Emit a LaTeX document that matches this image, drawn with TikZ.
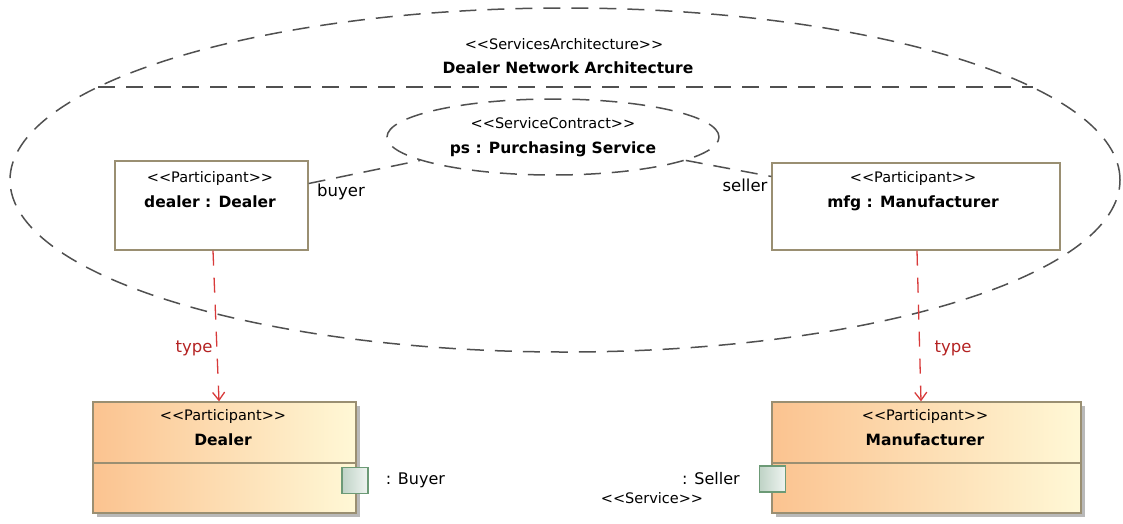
\documentclass[tikz,border=0pt]{standalone}
\usepackage{fontspec}
\setmainfont{DejaVu Sans}
\usetikzlibrary{arrows.meta,positioning,shapes.geometric,shadows}
\definecolor{archline}{HTML}{505050}
\definecolor{partline}{HTML}{9A8F72}
\definecolor{typered}{HTML}{D83A3A}
\definecolor{typetext}{HTML}{B42222}
\definecolor{clsleft}{HTML}{FBC390}
\definecolor{clsright}{HTML}{FFF8D6}
\definecolor{portline}{HTML}{6C9A76}
\definecolor{portfill}{HTML}{BFD3C6}
\newcommand{\ster}[1]{<\kern0pt<#1>\kern0pt>}
\newcommand{\stfont}{\fontsize{14.5}{25}\selectfont}
\newcommand{\nmfont}{\fontsize{15.5}{25}\selectfont\bfseries}

\begin{document}
\begin{tikzpicture}[x=1pt,y=-1pt,
  collab/.style={ellipse,draw=archline,line width=1.5pt,dash pattern=on 17pt off 11pt,inner sep=0pt},
  partbox/.style={rectangle,draw=partline,line width=1.3pt,fill=white,inner sep=0pt},
  clsbox/.style={rectangle,draw=partline,line width=1.3pt,left color=clsleft,right color=clsright,inner sep=0pt,
    drop shadow={shadow xshift=4pt,shadow yshift=-4pt,opacity=0.55}},
  portbox/.style={rectangle,draw=portline,line width=1.2pt,left color=portfill,right color=portfill!25,
    minimum width=26pt,minimum height=26pt,inner sep=0pt},
  twoline/.style={align=center,font=\stfont,inner sep=0pt},
  rolelink/.style={draw=archline,line width=1.5pt,dash pattern=on 17pt off 11pt},
  rolelbl/.style={font=\fontsize{16.5}{18}\selectfont,inner sep=0pt},
  typedep/.style={draw=typered,line width=1.3pt,dash pattern=on 15pt off 12pt,-{Straight Barb[length=8pt,width=12pt]}},
  typelbl/.style={font=\fontsize{16.5}{18}\selectfont,text=typetext,inner sep=0pt},
  portlbl/.style={font=\fontsize{16}{18}\selectfont,inner sep=0pt}]
  \useasboundingbox (0,0) rectangle (1123,523);

  % services architecture
  \node[collab,minimum width=1110pt,minimum height=344pt] (arch) at (565,180) {};
  \coordinate (chordL) at (98,87);
  \coordinate (chordR) at (1033,87);
  \draw[rolelink] (chordL) -- (chordR);
  \node[font=\stfont,inner sep=0pt] (archSt) at (564,44) {\ster{ServicesArchitecture}};
  \node[font=\nmfont,inner sep=0pt] (archNm) at (568,68) {Dealer Network Architecture};

  % service contract
  \node[collab,minimum width=332pt,minimum height=76pt,align=center,font=\stfont] (ps) at (553,137)
    {\ster{ServiceContract}\\{\nmfont ps : Purchasing Service}};

  % parts
  \node[partbox,minimum width=193pt,minimum height=89pt] (dealer) at (211.5,205.5) {};
  \node[twoline] (dealerTx) at (210,189.5) {\ster{Participant}\\{\nmfont dealer : Dealer}};
  \node[partbox,minimum width=288pt,minimum height=87pt] (mfg) at (916,206.5) {};
  \node[twoline] (mfgTx) at (913,191.5) {\ster{Participant}\\{\nmfont mfg : Manufacturer}};

  % roles
  \draw[rolelink] ([yshift=22pt]dealer.east) -- (ps.190);
  \draw[rolelink] (ps.350) -- ([yshift=30pt]mfg.west);
  \node[rolelbl] (buyerLbl) at (341,192) {buyer};
  \node[rolelbl] (sellerLbl) at (745,185) {seller};

  % participant classes
  \node[clsbox,minimum width=263pt,minimum height=111pt] (dealerCls) at (224.5,457.5) {};
  \draw[partline,line width=1.3pt] (dealerCls.west |- 0,463) -- (dealerCls.east |- 0,463);
  \node[twoline] (dealerClsTx) at (223,427.5) {\ster{Participant}\\{\nmfont Dealer}};
  \node[clsbox,minimum width=309pt,minimum height=111pt] (mfgCls) at (926.5,457.5) {};
  \draw[partline,line width=1.3pt] (mfgCls.west |- 0,463) -- (mfgCls.east |- 0,463);
  \node[twoline] (mfgClsTx) at (925,428) {\ster{Participant}\\{\nmfont Manufacturer}};

  % ports
  \node[portbox] (buyerPort) at (355,480.5) {};
  \node[portlbl,right=17pt of buyerPort] (buyerPortLbl) {: Buyer};
  \node[portbox] (sellerPort) at (772.5,479) {};
  \node[portlbl,left=19pt of sellerPort] (sellerPortLbl) {: Seller};
  \node[font=\stfont,inner sep=0pt] (sellerSvc) at (652,498) {\ster{Service}};

  % typing
  \draw[typedep] ([xshift=1.5pt]dealer.south) -- ([xshift=-5.5pt]dealerCls.north);
  \draw[typedep] ([xshift=1pt]mfg.south) -- ([xshift=-5.5pt]mfgCls.north);
  \node[typelbl] (dealerType) at (194,348) {type};
  \node[typelbl] (mfgType) at (953,348) {type};
\end{tikzpicture}
\end{document}
